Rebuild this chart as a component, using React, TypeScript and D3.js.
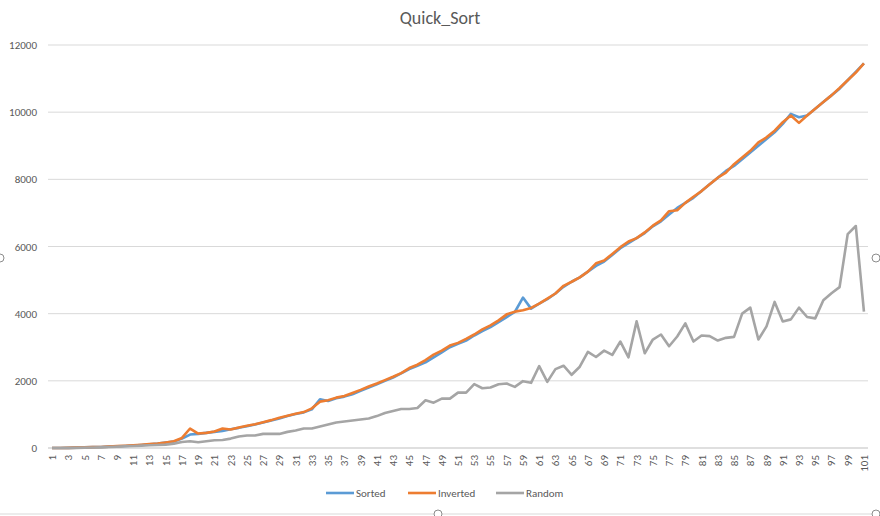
import * as d3 from 'd3'
import React from 'react'

const categories = d3.range(1, 102)
const sorted = [
  0, 2, 5, 10, 20, 25, 30, 40, 50, 60,
  75, 90, 110, 130, 160, 190, 280, 400, 420, 450,
  480, 510, 560, 600, 650, 700, 760, 820, 880, 950,
  1010, 1060, 1150, 1450, 1400, 1480, 1530, 1600, 1700, 1800,
  1900, 2000, 2100, 2220, 2350, 2450, 2550, 2700, 2850, 3000,
  3100, 3200, 3350, 3480, 3600, 3750, 3900, 4050, 4480, 4150,
  4300, 4430, 4600, 4800, 4950, 5080, 5250, 5420, 5550, 5750,
  5950, 6100, 6250, 6400, 6600, 6750, 6950, 7150, 7300, 7450,
  7650, 7850, 8050, 8250, 8400, 8600, 8800, 9000, 9200, 9400,
  9650, 9950, 9850, 9900, 10100, 10300, 10500, 10700, 10950, 11200,
  11450,
]
const inverted = [
  0, 2, 5, 10, 20, 25, 30, 40, 55, 65,
  80, 95, 115, 135, 165, 200, 300, 580, 430, 450,
  490, 580, 550, 610, 660, 710, 770, 830, 900, 960,
  1020, 1070, 1180, 1380, 1420, 1500, 1550, 1640, 1730, 1830,
  1920, 2020, 2120, 2230, 2380, 2480, 2620, 2780, 2900, 3050,
  3130, 3250, 3380, 3530, 3650, 3800, 3980, 4060, 4100, 4170,
  4300, 4450, 4600, 4830, 4950, 5080, 5250, 5500, 5580, 5780,
  5980, 6150, 6250, 6420, 6620, 6780, 7050, 7080, 7300, 7480,
  7650, 7850, 8050, 8200, 8450, 8650, 8850, 9100, 9250, 9450,
  9700, 9900, 9680, 9900, 10100, 10300, 10500, 10720, 10950, 11180,
  11450,
]
const random = [
  0, 0, 0, 5, 10, 15, 20, 30, 40, 50,
  60, 70, 80, 90, 100, 130, 180, 200, 170, 200,
  230, 240, 280, 340, 370, 370, 420, 420, 420, 480,
  520, 580, 580, 640, 700, 760, 790, 820, 850, 880,
  950, 1040, 1100, 1160, 1160, 1190, 1420, 1350, 1470, 1470,
  1650, 1650, 1900, 1780, 1800, 1900, 1920, 1820, 1990, 1940,
  2440, 1970, 2350, 2450, 2180, 2420, 2860, 2710, 2900, 2770,
  3170, 2700, 3770, 2820, 3230, 3380, 3030, 3320, 3710, 3170,
  3350, 3330, 3200, 3280, 3310, 4000, 4180, 3230, 3620, 4350,
  3770, 3830, 4180, 3900, 3860, 4400, 4610, 4790, 6370, 6610,
  4060,
]
const yTicks = [0, 2000, 4000, 6000, 8000, 10000, 12000]
const series = [
  { name: 'Sorted', values: sorted, color: '#5B9BD5' },
  { name: 'Inverted', values: inverted, color: '#ED7D31' },
  { name: 'Random', values: random, color: '#A5A5A5' },
]

const W = 880
const H = 516
const font = 'Calibri, Carlito, "Liberation Sans", Arial, sans-serif'

export default function App() {
  const x = d3.scaleBand<number>().domain(categories).range([48, 868])
  const cx = (c: number) => (x(c) as number) + x.bandwidth() / 2
  const y = d3.scaleLinear().domain([0, 12000]).range([448, 45])
  const line = (vals: number[]) =>
    d3.line<number>().x((_, i) => cx(categories[i])).y((v) => y(v))(vals) as string

  const legendX = [326, 408, 496]

  return (
    <svg width={W} height={H} style={{ position: 'absolute', left: 0, top: 0, background: '#fff' }} fontFamily={font}>
      <rect x={0} y={0} width={W} height={H} fill="#fff" />
      <text x={W / 2} y={24} textAnchor="middle" fontSize={18} fill="#595959">Quick_Sort</text>
      {yTicks.map((t) => (
        <g key={t}>
          <line x1={48} x2={868} y1={y(t)} y2={y(t)} stroke={t === 0 ? '#bfbfbf' : '#d9d9d9'} />
          <text x={37} y={y(t) + 4} textAnchor="end" fontSize={11} fill="#595959">{t}</text>
        </g>
      ))}
      {categories.filter((c) => c % 2 === 1).map((c) => (
        <text key={c} transform={`translate(${cx(c) + 4},${455}) rotate(-90)`} textAnchor="end" fontSize={11} fill="#595959">{c}</text>
      ))}
      {series.map((s) => (
        <path key={s.name} d={line(s.values)} fill="none" stroke={s.color} strokeWidth={2.6} strokeLinejoin="round" />
      ))}
      {series.map((s, i) => (
        <g key={s.name}>
          <line x1={legendX[i]} x2={legendX[i] + 28} y1={493} y2={493} stroke={s.color} strokeWidth={2.6} />
          <text x={legendX[i] + 30} y={497} fontSize={11} fill="#595959">{s.name}</text>
        </g>
      ))}
      <line x1={0} x2={W} y1={514} y2={514} stroke="#d9d9d9" />
      {[[0, 258], [438, 514], [876, 258], [876, 514]].map(([a, b], i) => (
        <circle key={i} cx={a} cy={b} r={4} fill="#fff" stroke="#8c8c8c" />
      ))}
    </svg>
  )
}
